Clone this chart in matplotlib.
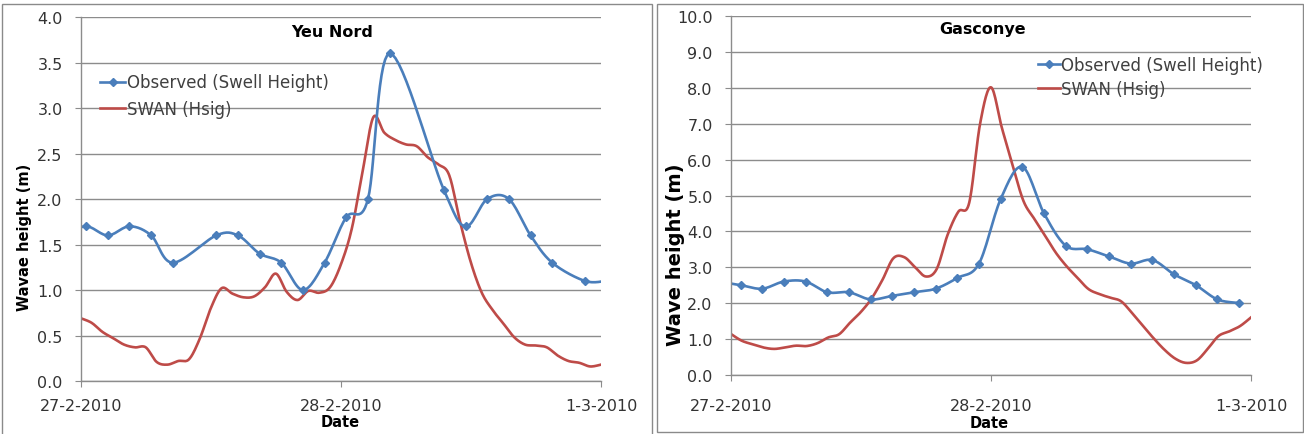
import numpy as np
import matplotlib.pyplot as plt
from matplotlib.lines import Line2D
from matplotlib.patches import Rectangle

# time axis in hours after 27-2-2010 00:00
date_ticks = [0, 24, 48]
date_labels = ['27-2-2010', '28-2-2010', '1-3-2010']
swan_hours = list(range(49))

# Yeu Nord buoy
yeu_obs_hours = [-1.5, 0.5, 2.5, 4.5, 6.5, 8.5, 12.5, 14.5, 16.5, 18.5, 20.5, 22.5,
                 24.5, 26.5, 28.5, 33.5, 35.5, 37.5, 39.5, 41.5, 43.5, 46.5, 48.5]
yeu_obs = [1.6, 1.7, 1.6, 1.7, 1.6, 1.3, 1.6, 1.6, 1.4, 1.3, 1.0, 1.3,
           1.8, 2.0, 3.6, 2.1, 1.7, 2.0, 2.0, 1.6, 1.3, 1.1, 1.1]
yeu_swan = [0.69, 0.64, 0.54, 0.47, 0.40, 0.37, 0.37, 0.21, 0.18, 0.22,
            0.24, 0.47, 0.80, 1.02, 0.96, 0.92, 0.93, 1.03, 1.18, 0.98,
            0.89, 0.99, 0.97, 1.03, 1.28, 1.67, 2.30, 2.90, 2.73, 2.65,
            2.60, 2.58, 2.46, 2.38, 2.26, 1.75, 1.30, 0.97, 0.78, 0.63,
            0.48, 0.40, 0.39, 0.37, 0.28, 0.22, 0.20, 0.16, 0.18]

# Gasconye buoy
gas_obs_hours = [-1.1, 0.9, 2.9, 4.9, 6.9, 8.9, 10.9, 12.9, 14.9, 16.9, 18.9, 20.9, 22.9,
                 24.9, 26.9, 28.9, 30.9, 32.9, 34.9, 36.9, 38.9, 40.9, 42.9, 44.9, 46.9]
gas_obs = [2.6, 2.5, 2.4, 2.6, 2.6, 2.3, 2.3, 2.1, 2.2, 2.3, 2.4, 2.7, 3.1,
           4.9, 5.8, 4.5, 3.6, 3.5, 3.3, 3.1, 3.2, 2.8, 2.5, 2.1, 2.0]
gas_swan = [1.14, 0.95, 0.85, 0.76, 0.72, 0.76, 0.81, 0.80, 0.88, 1.04,
            1.13, 1.45, 1.75, 2.13, 2.65, 3.25, 3.28, 3.00, 2.74, 2.95,
            3.90, 4.55, 4.80, 7.00, 8.02, 6.90, 5.85, 4.85, 4.35, 3.88,
            3.40, 3.02, 2.70, 2.39, 2.25, 2.15, 2.05, 1.73, 1.37, 1.02,
            0.70, 0.45, 0.33, 0.40, 0.72, 1.08, 1.21, 1.36, 1.60]

BLUE = '#4a7ebb'
RED = '#be4b48'
GRID = '#8c8c8c'
TXT = '#333333'


def smooth(x, y, steps=16):
    # bezier curve through the points, same as a "smoothed line" in a spreadsheet
    pts = np.column_stack([x, y]).astype(float)
    pts = np.vstack([pts[0], pts, pts[-1]])
    s = np.linspace(0, 1, steps)[:, None]
    out = []
    for i in range(1, len(pts) - 2):
        p0, p1, p2, p3 = pts[i - 1:i + 3]
        c1 = p1 + (p2 - p0) / 6
        c2 = p2 - (p3 - p1) / 6
        seg = (1 - s)**3 * p1 + 3 * (1 - s)**2 * s * c1 + 3 * (1 - s) * s**2 * c2 + s**3 * p2
        out.append(seg if i == 1 else seg[1:])
    res = np.vstack(out)
    return res[:, 0], res[:, 1]


def draw(ax, obs_h, obs, swan, ymax, ystep, title, title_y, xpad):
    ax.set_xlim(0, 48)
    ax.set_ylim(0, ymax)
    ax.set_yticks(np.arange(0, ymax + ystep / 2, ystep))
    ax.yaxis.set_major_formatter(plt.FormatStrFormatter('%.1f'))
    ax.set_xticks(date_ticks)
    ax.set_xticklabels(date_labels)
    ax.grid(axis='y', color=GRID, lw=1.0)
    ax.set_axisbelow(True)
    for side in ['top', 'right']:
        ax.spines[side].set_visible(False)
    for side in ['left', 'bottom']:
        ax.spines[side].set_color(GRID)
        ax.spines[side].set_linewidth(1.0)
    ax.tick_params(axis='both', direction='out', length=4.5, color=GRID,
                   labelsize=11.5, labelcolor=TXT)
    ax.tick_params(axis='y', pad=8.5)
    ax.tick_params(axis='x', pad=xpad)

    sx, sy = smooth(swan_hours, swan)
    ax.plot(sx, sy, color=RED, lw=1.9)
    ox, oy = smooth(obs_h, obs)
    ax.plot(ox, oy, color=BLUE, lw=1.9)
    ax.plot(obs_h, obs, 'D', color=BLUE, ms=4.2)

    ax.text(0.483, title_y, title, transform=ax.transAxes, ha='center', va='center',
            fontsize=11.5, fontweight='bold')


fig = plt.figure(figsize=(13.04, 4.35), dpi=100)

# chart area borders
fig.patches.append(Rectangle((2 / 1304, -0.01), 650 / 1304, 0.9985, transform=fig.transFigure,
                             fill=False, ec='#8a8a8a', lw=1.0))
fig.patches.append(Rectangle((657 / 1304, 0.0053), 646 / 1304, 0.9832, transform=fig.transFigure,
                             fill=False, ec='#8a8a8a', lw=1.0))

ax1 = fig.add_axes([0.0619, 0.1218, 0.399, 0.8368])
ax2 = fig.add_axes([0.5604, 0.1363, 0.399, 0.8239])

draw(ax1, yeu_obs_hours, yeu_obs, yeu_swan, 4.0, 0.5, 'Yeu Nord', 0.959, 8)
draw(ax2, gas_obs_hours, gas_obs, gas_swan, 10.0, 1.0, 'Gasconye', 0.967, 12)

handles = [Line2D([], [], color=BLUE, lw=1.9, marker='D', ms=4.2),
           Line2D([], [], color=RED, lw=1.9)]
labels = ['Observed (Swell Height)', 'SWAN (Hsig)']
ax1.legend(handles, labels, loc='center left', bbox_to_anchor=(100 / 1304, 1 - 96.5 / 435),
           bbox_transform=fig.transFigure, frameon=False, borderpad=0, borderaxespad=0,
           handlelength=1.5, handletextpad=0.1, labelspacing=0.5, fontsize=12,
           labelcolor='#404040')
ax2.legend(handles, labels, loc='center left', bbox_to_anchor=(1038 / 1304, 1 - 77.8 / 435),
           bbox_transform=fig.transFigure, frameon=False, borderpad=0, borderaxespad=0,
           handlelength=1.3, handletextpad=0.1, labelspacing=0.37, fontsize=12,
           labelcolor='#404040')

fig.text(25 / 1304, 1 - 237 / 435, 'Wavae height (m)', rotation=90, ha='center', va='center',
         fontsize=10.5, fontweight='bold')
fig.text(675.5 / 1304, 1 - 255 / 435, 'Wave height (m)', rotation=90, ha='center', va='center',
         fontsize=14, fontweight='bold')
fig.text(340 / 1304, 1 - 423 / 435, 'Date', ha='center', va='center', fontsize=10.5, fontweight='bold')
fig.text(989 / 1304, 1 - 423.5 / 435, 'Date', ha='center', va='center', fontsize=10.5, fontweight='bold')

fig.savefig('out.png', dpi=100)
